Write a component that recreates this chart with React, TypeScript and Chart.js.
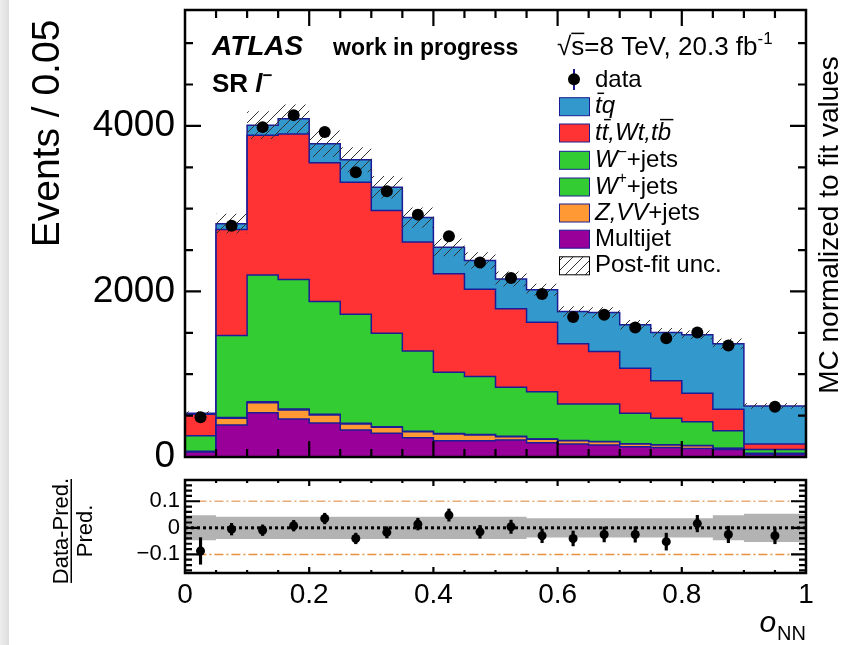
import React, { useEffect, useRef } from 'react';
import { Chart, registerables } from 'chart.js';

Chart.register(...registerables);

const FONT = "'Liberation Sans', Arial, Helvetica, sans-serif";
const NAVY = '#1c1c96';

// ---- data ----
const binEdges = [0, 0.05, 0.1, 0.15, 0.2, 0.25, 0.3, 0.35, 0.4, 0.45, 0.5, 0.55, 0.6, 0.65, 0.7, 0.75, 0.8, 0.85, 0.9, 1.0];
const multijet = [60, 386, 535, 459, 410, 326, 286, 232, 196, 196, 205, 172, 156, 144, 123, 116, 104, 92, 30];
const zvvJets = [4, 81, 121, 109, 97, 72, 72, 73, 81, 69, 40, 41, 40, 40, 33, 28, 32, 12, 10];
const wPlusJets = [4, 10, 12, 12, 10, 9, 8, 7, 6, 6, 5, 5, 4, 4, 3, 3, 3, 2, 4];
const wMinusJets = [189, 990, 1530, 1565, 1362, 1319, 1130, 970, 741, 700, 592, 571, 440, 452, 369, 320, 287, 211, 48];
const ttbarWtTb = [258, 1280, 1690, 1756, 1675, 1593, 1481, 1316, 1190, 1057, 948, 840, 727, 634, 544, 455, 344, 259, 64];
const tbarQ = [13, 72, 121, 186, 230, 271, 282, 294, 319, 347, 360, 391, 391, 472, 525, 581, 706, 791, 460];
const dataEvents = [479, 2795, 3985, 4130, 3925, 3440, 3210, 2928, 2666, 2351, 2162, 1968, 1690, 1718, 1564, 1435, 1503, 1346, 608];
const postFitUnc = [0.047, 0.042, 0.042, 0.042, 0.042, 0.042, 0.042, 0.042, 0.042, 0.042, 0.042, 0.036, 0.036, 0.036, 0.036, 0.036, 0.036, 0.047, 0.053];
const ratioValues = [-0.087, -0.005, -0.009, 0.008, 0.035, -0.040, -0.017, 0.014, 0.048, -0.015, 0.004, -0.030, -0.040, -0.025, -0.025, -0.052, 0.016, -0.025, -0.030];
const ratioErrors = [0.05, 0.022, 0.02, 0.02, 0.02, 0.02, 0.021, 0.022, 0.023, 0.024, 0.025, 0.026, 0.028, 0.028, 0.029, 0.032, 0.031, 0.031, 0.03];
const mainYTicks = [0, 2000, 4000];
const ratioYTicks = [-0.1, 0, 0.1];
const xTickLabels = [0, 0.2, 0.4, 0.6, 0.8, 1];

// ---- helpers ----
const binCenters = binEdges.slice(0, -1).map((e, i) => (e + binEdges[i + 1]) / 2);
const stepPoints = (vals: number[]) => binEdges.map((e, i) => ({ x: e, y: vals[Math.min(i, vals.length - 1)] }));
const totals = multijet.map((_, i) => multijet[i] + zvvJets[i] + wPlusJets[i] + wMinusJets[i] + ttbarWtTb[i] + tbarQ[i]);

function makeHatch(): CanvasPattern | string {
  const pc = document.createElement('canvas');
  pc.width = 10; pc.height = 10;
  const g = pc.getContext('2d');
  if (!g) return 'rgba(0,0,0,0.2)';
  g.strokeStyle = '#333';
  g.lineWidth = 1;
  g.beginPath();
  g.moveTo(0, 10); g.lineTo(10, 0);
  g.moveTo(-5, 5); g.lineTo(5, -5);
  g.moveTo(5, 15); g.lineTo(15, 5);
  g.stroke();
  const p = g.createPattern(pc, 'repeat');
  return p || 'rgba(0,0,0,0.2)';
}

type Seg = { t: string; italic?: boolean; bold?: boolean; sup?: boolean; over?: boolean };
function drawRich(ctx: CanvasRenderingContext2D, x: number, y: number, segs: Seg[], size: number) {
  let cx = x;
  ctx.textAlign = 'left';
  ctx.textBaseline = 'alphabetic';
  for (const s of segs) {
    const sz = s.sup ? size * 0.65 : size;
    ctx.font = `${s.italic ? 'italic ' : ''}${s.bold ? 'bold ' : ''}${sz}px ${FONT}`;
    const dy = s.sup ? -size * 0.42 : 0;
    ctx.fillText(s.t, cx, y + dy);
    const w = ctx.measureText(s.t).width;
    if (s.over) {
      const sh = s.italic ? size * 0.1 : 0;
      ctx.fillRect(cx + sh, y - size * 0.86, w, 1.5);
    }
    cx += w;
  }
}

function drawFrame(chart: any, o: { yMinorStep: number; yMajorEvery: number; xMajorLen: number; xMinorLen: number; yMajorLen: number; yMinorLen: number }) {
  const { ctx, chartArea: a, scales } = chart;
  const xs = scales.x, ys = scales.y;
  ctx.save();
  ctx.strokeStyle = '#000';
  ctx.lineWidth = 2.2;
  ctx.beginPath();
  for (let k = 1; k < 20; k++) {
    const px = xs.getPixelForValue(k * 0.05);
    const L = k % 4 === 0 ? o.xMajorLen : o.xMinorLen;
    ctx.moveTo(px, a.bottom); ctx.lineTo(px, a.bottom - L);
    ctx.moveTo(px, a.top); ctx.lineTo(px, a.top + L);
  }
  const kmin = Math.ceil(ys.min / o.yMinorStep - 1e-9);
  const kmax = Math.floor(ys.max / o.yMinorStep + 1e-9);
  for (let k = kmin; k <= kmax; k++) {
    const py = ys.getPixelForValue(k * o.yMinorStep);
    if (py <= a.top + 1 || py >= a.bottom - 1) continue;
    const L = k % o.yMajorEvery === 0 ? o.yMajorLen : o.yMinorLen;
    ctx.moveTo(a.left, py); ctx.lineTo(a.left + L, py);
    ctx.moveTo(a.right, py); ctx.lineTo(a.right - L, py);
  }
  ctx.stroke();
  ctx.lineWidth = 2.5;
  ctx.strokeRect(a.left, a.top, a.right - a.left, a.bottom - a.top);
  ctx.restore();
}

export default function App() {
  const mainRef = useRef<HTMLCanvasElement>(null);
  const ratioRef = useRef<HTMLCanvasElement>(null);

  useEffect(() => {
    if (!mainRef.current || !ratioRef.current) return;
    const hatch = makeHatch();

    const layer = (label: string, vals: number[], color: string, fill: string) => ({
      label,
      data: stepPoints(vals),
      stepped: 'before' as const,
      stack: 'mc',
      order: 10,
      borderColor: NAVY,
      borderWidth: 1.5,
      backgroundColor: color,
      fill,
      pointRadius: 0,
      tension: 0,
    });

    const mainPlugin = {
      id: 'mainDecor',
      afterDraw(chart: any) {
        drawFrame(chart, { yMinorStep: 500, yMajorEvery: 4, xMajorLen: 16, xMinorLen: 8, yMajorLen: 16, yMinorLen: 8 });
        const ctx: CanvasRenderingContext2D = chart.ctx;
        ctx.save();
        ctx.fillStyle = '#000';
        ctx.textBaseline = 'alphabetic';
        // axis titles
        ctx.save();
        ctx.translate(58.5, 133.5);
        ctx.rotate(-Math.PI / 2);
        ctx.textAlign = 'center';
        ctx.font = `39px ${FONT}`;
        ctx.fillText('Events / 0.05', 0, 0);
        ctx.restore();
        ctx.save();
        ctx.translate(838, 225);
        ctx.rotate(-Math.PI / 2);
        ctx.textAlign = 'center';
        ctx.font = `28px ${FONT}`;
        ctx.fillText('MC normalized to fit values', 0, 0);
        ctx.restore();
        // labels
        ctx.textAlign = 'left';
        ctx.font = `italic bold 28px ${FONT}`;
        ctx.fillText('ATLAS', 212, 55);
        ctx.font = `bold 23px ${FONT}`;
        ctx.fillText('work in progress', 333, 55);
        drawRich(ctx, 557, 55, [{ t: '√' }, { t: 's', over: true }, { t: '=8 TeV, 20.3 fb' }, { t: '-1', sup: true }], 26);
        drawRich(ctx, 212, 92, [{ t: 'SR ', bold: true }, { t: 'l', bold: true, italic: true }, { t: '−', sup: true, bold: true }], 26);
        // legend
        const lx = 559.5, bw = 30, bh = 18, tx = 595;
        // data marker
        ctx.strokeStyle = NAVY;
        ctx.lineWidth = 2;
        ctx.beginPath(); ctx.moveTo(574, 69); ctx.lineTo(574, 90); ctx.stroke();
        ctx.beginPath(); ctx.arc(574, 79.3, 6, 0, Math.PI * 2); ctx.fillStyle = '#000'; ctx.fill();
        drawRich(ctx, tx, 86.5, [{ t: 'data' }], 24);
        const rows: { c: string | CanvasPattern; cy: number; segs: Seg[]; border?: string }[] = [
          { c: '#3399cc', cy: 106.7, segs: [{ t: 't', italic: true, over: true }, { t: 'q', italic: true }] },
          { c: '#ff3333', cy: 133, segs: [{ t: 't', italic: true }, { t: 't', italic: true, over: true }, { t: ',Wt,t', italic: true }, { t: 'b', italic: true, over: true }] },
          { c: '#33cc33', cy: 160.3, segs: [{ t: 'W', italic: true }, { t: '−', sup: true }, { t: '+jets' }] },
          { c: '#33cc33', cy: 187, segs: [{ t: 'W', italic: true }, { t: '+', sup: true }, { t: '+jets' }] },
          { c: '#ff9933', cy: 213, segs: [{ t: 'Z,VV', italic: true }, { t: '+jets' }] },
          { c: '#990099', cy: 239.2, segs: [{ t: 'Multijet' }] },
          { c: hatch, cy: 265.8, segs: [{ t: 'Post-fit unc.' }], border: '#000' },
        ];
        for (const r of rows) {
          if (r.border) { ctx.fillStyle = '#fff'; ctx.fillRect(lx, r.cy - bh / 2, bw, bh); }
          ctx.fillStyle = r.c as any;
          ctx.fillRect(lx, r.cy - bh / 2, bw, bh);
          ctx.strokeStyle = r.border || NAVY;
          ctx.lineWidth = 1;
          ctx.strokeRect(lx, r.cy - bh / 2, bw, bh);
          ctx.fillStyle = '#000';
          drawRich(ctx, tx, r.cy + 6.5, r.segs, 24);
        }
        ctx.restore();
      },
    };

    const mainChart = new Chart(mainRef.current, {
      type: 'line',
      data: {
        datasets: [
          layer('Multijet', multijet, '#990099', 'origin'),
          layer('Z,VV+jets', zvvJets, '#ff9933', '-1'),
          layer('W+ +jets', wPlusJets, '#33cc33', '-1'),
          layer('W- +jets', wMinusJets, '#33cc33', '-1'),
          layer('tt,Wt,tb', ttbarWtTb, '#ff3333', '-1'),
          layer('tq', tbarQ, '#3399cc', '-1'),
          {
            label: 'uncLo', data: stepPoints(totals.map((t, i) => t * (1 - postFitUnc[i]))), stepped: 'before', stack: 'uncLo', order: 1,
            borderWidth: 0, borderColor: 'rgba(0,0,0,0)', pointRadius: 0, fill: false,
          },
          {
            label: 'Post-fit unc.', data: stepPoints(totals.map((t, i) => t * (1 + postFitUnc[i]))), stepped: 'before', stack: 'uncHi', order: 1,
            borderWidth: 0, borderColor: 'rgba(0,0,0,0)', pointRadius: 0, fill: '-1', backgroundColor: hatch as any,
          },
          {
            label: 'data', data: binCenters.map((c, i) => ({ x: c, y: dataEvents[i] })), stack: 'data', order: 0,
            showLine: false, pointRadius: 6, pointBackgroundColor: '#000', pointBorderWidth: 0, borderColor: '#000',
          },
        ] as any,
      },
      options: {
        responsive: false,
        animation: false,
        events: [],
        layout: { padding: { left: 0, top: 10, right: 40, bottom: 23 } },
        plugins: { legend: { display: false }, tooltip: { enabled: false } },
        scales: {
          x: { type: 'linear', min: 0, max: 1, display: false },
          y: {
            type: 'linear', stacked: true, min: 0, max: 5400,
            grid: { display: false, drawTicks: false },
            border: { display: false },
            ticks: { color: '#000', font: { family: FONT, size: 37 }, padding: 10, callback: (v: any) => String(v) },
            afterBuildTicks: (s: any) => { s.ticks = mainYTicks.map((v) => ({ value: v })); },
            afterFit: (s: any) => { s.width = 185; s.paddingTop = 0; s.paddingBottom = 0; },
          },
        },
      } as any,
      plugins: [mainPlugin],
    });

    const ratioPlugin = {
      id: 'ratioDecor',
      afterDraw(chart: any) {
        drawFrame(chart, { yMinorStep: 0.02, yMajorEvery: 5, xMajorLen: 6, xMinorLen: 3, yMajorLen: 15, yMinorLen: 7 });
        const ctx: CanvasRenderingContext2D = chart.ctx;
        ctx.save();
        ctx.fillStyle = '#000';
        // y title as fraction
        ctx.save();
        ctx.translate(71, 61);
        ctx.rotate(-Math.PI / 2);
        ctx.textAlign = 'center';
        ctx.textBaseline = 'alphabetic';
        ctx.font = `22px ${FONT}`;
        ctx.fillText('Data-Pred.', 0, -3);
        ctx.fillRect(-52, -0.5, 104, 1.5);
        ctx.fillText('Pred.', 0, 21);
        ctx.restore();
        // x title
        ctx.textBaseline = 'alphabetic';
        ctx.textAlign = 'right';
        ctx.font = `20px ${FONT}`;
        const nnW = ctx.measureText('NN').width;
        ctx.fillText('NN', 806, 170);
        ctx.font = `italic 30px ${FONT}`;
        ctx.fillText('o', 806 - nnW - 1, 162);
        ctx.restore();
      },
    };

    const ratioChart = new Chart(ratioRef.current, {
      type: 'line',
      data: {
        datasets: [
          {
            label: 'bandLo', data: stepPoints(postFitUnc.map((u) => -u)), stepped: 'before', order: 5,
            borderWidth: 0, borderColor: 'rgba(0,0,0,0)', pointRadius: 0, fill: false,
          },
          {
            label: 'bandHi', data: stepPoints(postFitUnc), stepped: 'before', order: 5,
            borderWidth: 0, borderColor: 'rgba(0,0,0,0)', pointRadius: 0, fill: '-1', backgroundColor: '#b3b3b3',
          },
          {
            label: 'plus10', data: [{ x: 0.02, y: 0.1 }, { x: 0.98, y: 0.1 }], order: 4,
            borderColor: '#e8ac78', borderWidth: 1.5, borderDash: [9, 3, 2, 3], pointRadius: 0, fill: false,
          },
          {
            label: 'minus10', data: [{ x: 0.02, y: -0.1 }, { x: 0.98, y: -0.1 }], order: 4,
            borderColor: '#e8913c', borderWidth: 1.5, borderDash: [9, 3, 2, 3], pointRadius: 0, fill: false,
          },
          {
            label: 'zero', data: [{ x: 0, y: 0 }, { x: 1, y: 0 }], order: 3,
            borderColor: '#000', borderWidth: 3, borderDash: [3, 3], pointRadius: 0, fill: false,
          },
          {
            type: 'bar', label: 'err', order: 1,
            data: binCenters.map((c, i) => ({ x: c, y: [ratioValues[i] - ratioErrors[i], ratioValues[i] + ratioErrors[i]] })),
            backgroundColor: '#000', barThickness: 2.5, borderWidth: 0,
          },
          {
            label: 'ratio', data: binCenters.map((c, i) => ({ x: c, y: ratioValues[i] })), order: 0,
            showLine: false, pointRadius: 4.5, pointBackgroundColor: '#000', pointBorderWidth: 0, borderColor: '#000',
          },
        ] as any,
      },
      options: {
        responsive: false,
        animation: false,
        events: [],
        layout: { padding: { left: 0, top: 10, right: 40, bottom: 27 } },
        plugins: { legend: { display: false }, tooltip: { enabled: false } },
        scales: {
          x: {
            type: 'linear', min: 0, max: 1, offset: false,
            grid: { display: false, drawTicks: false },
            border: { display: false },
            ticks: { color: '#000', font: { family: FONT, size: 28 }, padding: 5, maxRotation: 0, autoSkip: false, callback: (v: any) => String(v) },
            afterBuildTicks: (s: any) => { s.ticks = xTickLabels.map((v) => ({ value: v })); },
            afterFit: (s: any) => { s.height = 45; s.paddingLeft = 0; s.paddingRight = 0; },
          },
          y: {
            type: 'linear', min: -0.17, max: 0.18,
            grid: { display: false, drawTicks: false },
            border: { display: false },
            ticks: {
              color: '#000', font: { family: FONT, size: 22 }, padding: 5,
              callback: (v: any) => (v === 0 ? '0' : v < 0 ? '−' + String(Math.abs(v)) : String(v)),
            },
            afterBuildTicks: (s: any) => { s.ticks = ratioYTicks.map((v) => ({ value: v })); },
            afterFit: (s: any) => { s.width = 185; s.paddingTop = 0; s.paddingBottom = 0; },
          },
        },
      } as any,
      plugins: [ratioPlugin],
    });

    return () => {
      mainChart.destroy();
      ratioChart.destroy();
    };
  }, []);

  return (
    <div style={{ position: 'fixed', left: 0, top: 0, width: 846, height: 645, background: '#fff', overflow: 'hidden' }}>
      <div style={{ position: 'absolute', left: 0, top: 0, width: 9, height: 645, background: 'linear-gradient(to right, #eeeeee, #dedede)' }} />
      <canvas ref={mainRef} width={846} height={480} style={{ position: 'absolute', left: 0, top: 0 }} />
      <canvas ref={ratioRef} width={846} height={175} style={{ position: 'absolute', left: 0, top: 470 }} />
    </div>
  );
}
